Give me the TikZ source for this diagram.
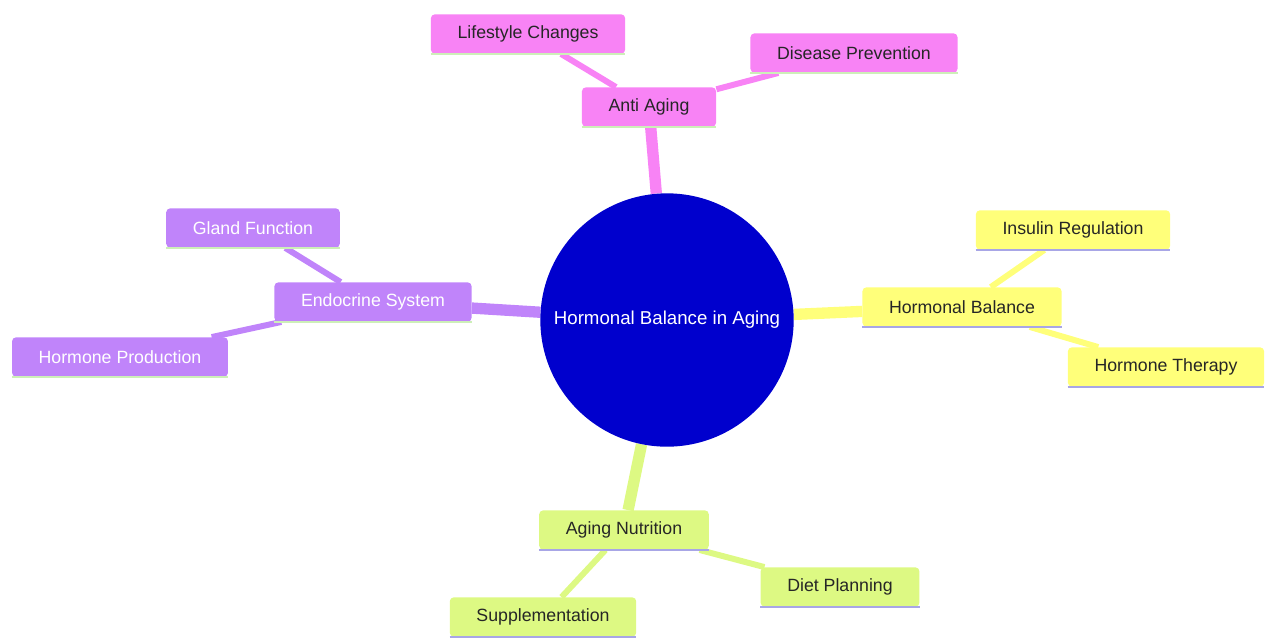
\documentclass[tikz,border=0pt]{standalone}
\usepackage{fontspec}
\setmainfont{Liberation Sans}
\usetikzlibrary{backgrounds}
\definecolor{core fill}{HTML}{0000CD}
\definecolor{anti fill}{HTML}{F883F5}
\definecolor{endo fill}{HTML}{C084FA}
\definecolor{hbal fill}{HTML}{FFFF7A}
\definecolor{nutri fill}{HTML}{DDF983}
\definecolor{line green}{HTML}{CDEFB8}
\definecolor{line lav}{HTML}{A8A6E6}
\colorlet{text dark}{black!85}
\tikzset{topic/.style={rectangle, rounded corners=3pt, inner xsep=20pt,
        minimum height=29.5pt, text=text dark, font=\fontsize{13.3}{15}\selectfont},
    underline/.style={append after command={(\tikzlastnode.south west)
        edge[draw=#1, line width=2pt] (\tikzlastnode.south east)}},
    core/.style={circle, fill=core fill, text=white, minimum size=190pt,
        inner sep=0pt, font=\fontsize{14}{16}\selectfont},
    anti/.style={topic, fill=anti fill, underline=line green},
    endo/.style={topic, fill=endo fill, text=white, underline=line green},
    hbal/.style={topic, fill=hbal fill, underline=line lav},
    nutri/.style={topic, fill=nutri fill, underline=line lav},
    branch/.style={draw=#1, line width=8.5pt},
    twig/.style={draw=#1, line width=4.5pt}}

\begin{document}
\begin{tikzpicture}[x=0.75pt, y=-0.75pt]
    \useasboundingbox (0,0) rectangle (1266,637);
    \node[core] (root) at (667,320) {Hormonal Balance in Aging};
    % anti aging branch
    \node[anti] (anti) at (649,107) {Anti Aging};
    \node[anti] (life) at (528,34)  {Lifestyle Changes};
    \node[anti] (prev) at (854,53)  {Disease Prevention};
    % endocrine branch
    \node[endo] (endo)  at (373,302) {Endocrine System};
    \node[endo] (gland) at (253,228) {Gland Function};
    \node[endo] (prod)  at (120,357) {Hormone Production};
    % hormonal balance branch
    \node[hbal] (hbal)    at (962,307)  {Hormonal Balance};
    \node[hbal] (insulin) at (1073,230) {Insulin Regulation};
    \node[hbal] (therapy) at (1166,367) {Hormone Therapy};
    % nutrition branch
    \node[nutri] (nutri) at (624,530) {Aging Nutrition};
    \node[nutri] (suppl) at (543,617) {Supplementation};
    \node[nutri] (diet)  at (840,587) {Diet Planning};
    \begin{pgfonlayer}{background}
        \draw[branch=anti fill]  (root) -- (anti);
        \draw[branch=endo fill]  (root) -- (endo);
        \draw[branch=hbal fill]  (root) -- (hbal);
        \draw[branch=nutri fill] (root) -- (nutri);
        \draw[twig=anti fill]  (anti) -- (life);
        \draw[twig=anti fill]  (anti) -- (prev);
        \draw[twig=endo fill]  (endo) -- (gland);
        \draw[twig=endo fill]  (endo) -- (prod);
        \draw[twig=hbal fill]  (hbal) -- (insulin);
        \draw[twig=hbal fill]  (hbal) -- (therapy);
        \draw[twig=nutri fill] (nutri) -- (suppl);
        \draw[twig=nutri fill] (nutri) -- (diet);
    \end{pgfonlayer}
\end{tikzpicture}
\end{document}
